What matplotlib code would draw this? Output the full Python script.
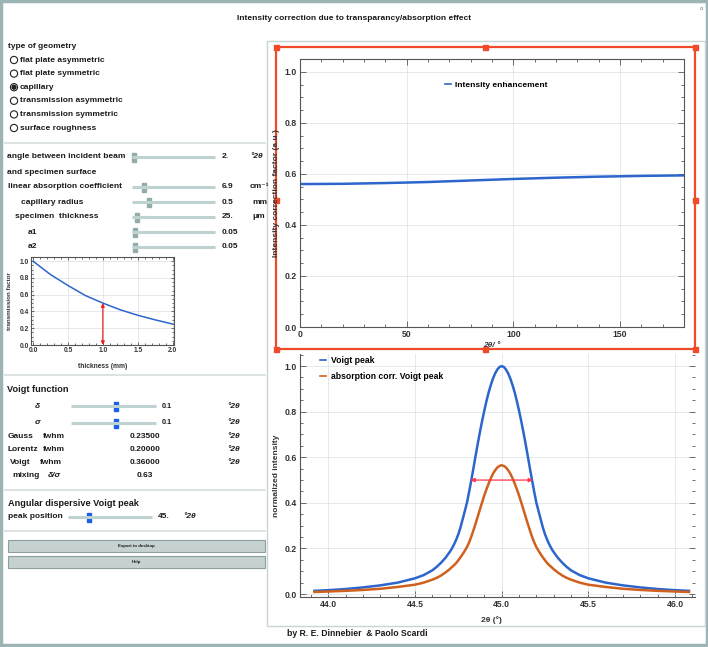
import matplotlib
matplotlib.use("Agg")
from matplotlib import pyplot as plt
from matplotlib.patches import Rectangle, Circle

plt.rcParams['font.family'] = ['Liberation Sans', 'DejaVu Sans']

W, H = 708, 647

# data
geometries = ["flat plate asymmetric", "flat plate symmetric", "capillary",
              "transmission asymmetric", "transmission symmetric", "surface roughness"]
selected_geometry = "capillary"

angle = [0, 20, 40, 60, 80, 100, 120, 140, 160, 180]
correction = [0.560, 0.561, 0.564, 0.568, 0.574, 0.580, 0.585, 0.589, 0.592, 0.594]

thickness = [0.0, 0.25, 0.5, 0.75, 1.0, 1.25, 1.5, 1.75, 2.0]
transmission = [1.0, 0.84, 0.71, 0.59, 0.50, 0.42, 0.355, 0.30, 0.25]
thickness_mark = 1.0
transmission_mark = 0.50

# Voigt peak, symmetric about the peak position: offsets from the centre (°2θ)
peak_pos = 45.0
offset = [0.0, 0.0125, 0.025, 0.0375, 0.05, 0.0625, 0.075, 0.0875, 0.1, 0.1125,
          0.125, 0.1375, 0.15, 0.1625, 0.175, 0.1875, 0.2, 0.2125, 0.225, 0.2375,
          0.25, 0.2625, 0.275, 0.2875, 0.3, 0.325, 0.35, 0.375, 0.4, 0.45,
          0.5, 0.6, 0.7, 0.8, 0.9, 1.0, 1.08]
voigt_half = [1.000, 0.996, 0.985, 0.968, 0.945, 0.917, 0.885, 0.847, 0.805, 0.760,
              0.712, 0.661, 0.608, 0.553, 0.500, 0.449, 0.401, 0.364, 0.328, 0.292,
              0.262, 0.238, 0.217, 0.199, 0.184, 0.158, 0.137, 0.119, 0.104, 0.083,
              0.069, 0.050, 0.038, 0.029, 0.022, 0.017, 0.014]
corr_half = [0.565, 0.562, 0.555, 0.543, 0.528, 0.508, 0.485, 0.460, 0.433, 0.403,
             0.372, 0.341, 0.310, 0.280, 0.252, 0.227, 0.206, 0.190, 0.175, 0.161,
             0.148, 0.136, 0.126, 0.118, 0.109, 0.094, 0.081, 0.071, 0.063, 0.050,
             0.041, 0.031, 0.023, 0.018, 0.014, 0.011, 0.009]
fwhm_left, fwhm_right, half_max = 44.82, 45.18, 0.5

two_theta = [peak_pos - d for d in offset[::-1]] + [peak_pos + d for d in offset[1:]]
voigt = voigt_half[::-1] + voigt_half[1:]
voigt_corr = corr_half[::-1] + corr_half[1:]

BLUE = '#2c66cc'
ORANGE = '#d0611c'
RED = '#f04a28'
INK = '#1a1a1a'
FS = 6.0

fig = plt.figure(figsize=(W / 100, H / 100), dpi=100)

# background layer in pixel coordinates
bg = fig.add_axes([0, 0, 1, 1], zorder=0)
bg.set_xlim(0, W)
bg.set_ylim(H, 0)
bg.axis('off')


def box(l, t, r, b):
  return [l / W, 1 - b / H, (r - l) / W, (b - t) / H]


def txt(x, y, s, size=FS, weight='bold', ha='left', color=INK, **kw):
  bg.text(x, y, s, fontsize=size, fontweight=weight, ha=ha, va='center', color=color, **kw)


def slider(x0, x1, y, thumb, color='#93abab', w=4):
  bg.plot([x0, x1], [y, y], color='#bfd2d2', lw=2.2, solid_capstyle='butt')
  bg.add_patch(Rectangle((thumb - w / 2, y - 4.5), w, 9, color=color))


def sep(y):
  bg.plot([5, 265], [y, y], color='#d3dddd', lw=1.2)


def style_axes(ax, size=6.2):
  ax.tick_params(which='both', direction='in', colors='#555555', labelcolor='#333333',
                 labelsize=size, width=0.6, pad=2)
  ax.tick_params(which='major', length=4)
  ax.tick_params(which='minor', length=2)
  for lab in ax.get_xticklabels() + ax.get_yticklabels():
    lab.set_fontweight('bold')
  for sp in ax.spines.values():
    sp.set_color('#555555')
    sp.set_linewidth(0.8)
  ax.grid(True, which='major', color='#dfe5ea', lw=0.6)
  ax.set_axisbelow(True)


# frames
bg.add_patch(Rectangle((1, 1), W - 2, H - 3, fill=False, ec='#9db4b4', lw=2.5))
bg.add_patch(Rectangle((267, 41), 438, 585, fill=False, ec='#c8d5d5', lw=1))

txt(354, 19, "Intensity correction due to transparancy/absorption effect", size=6.0, ha='center')
txt(700, 8, "α", size=4, weight='normal', color='#777777')

# geometry radio buttons
txt(8, 47, "type of geometry")
for i, g in enumerate(geometries):
  y = 60 + i * 13.6
  bg.add_patch(Circle((14, y), 3.6, fill=False, ec='#222222', lw=0.8))
  if g == selected_geometry:
    bg.add_patch(Circle((14, y), 1.9, color='#222222'))
  txt(20, y, g)
sep(143)

# sliders
txt(7, 157, "angle between incident beam")
txt(7, 172, "and specimen surface")
slider(132, 215, 157, 134)
txt(222, 157, "2.")
txt(250, 157, "°2θ", style='italic')
txt(8, 186, "linear absorption coefficient")
slider(132, 215, 187, 144)
txt(222, 187, "6.9")
txt(250, 186, "cm⁻¹")
txt(21, 202, "capillary radius")
slider(132, 215, 202, 149)
txt(222, 202, "0.5")
txt(252, 202, "mm")
txt(15, 217, "specimen  thickness")
slider(132, 215, 217, 137)
txt(222, 217, "25.")
txt(252, 217, "μm")
txt(28, 232, "a1")
slider(132, 215, 232, 135)
txt(222, 232, "0.05")
txt(28, 247, "a2")
slider(132, 215, 247, 135)
txt(222, 247, "0.05")

# transmission factor inset
ax_t = fig.add_axes(box(31, 257, 174, 345), zorder=1)
ax_t.plot(thickness, transmission, color=BLUE, lw=1.1)
ax_t.annotate("", xy=(thickness_mark, transmission_mark), xytext=(thickness_mark, 0.0),
              arrowprops=dict(arrowstyle='<|-|>', color='#f01e1e', lw=0.9,
                              mutation_scale=5, shrinkA=0, shrinkB=0))
ax_t.set_xlim(-0.03, 2.02)
ax_t.set_ylim(0, 1.05)
ax_t.set_xticks([0.0, 0.5, 1.0, 1.5, 2.0])
ax_t.set_yticks([0.0, 0.2, 0.4, 0.6, 0.8, 1.0])
ax_t.minorticks_on()
ax_t.tick_params(which='both', top=True, right=True)
style_axes(ax_t, size=4.8)
ax_t.tick_params(which='major', length=2.5, pad=1.5)
ax_t.tick_params(which='minor', length=1.2)
ax_t.set_xlabel("thickness (mm)", fontsize=4.8, fontweight='bold', color='#333333')
ax_t.set_ylabel("transmission factor", fontsize=4.5, fontweight='bold', color='#333333')
ax_t.xaxis.set_label_coords(0.5, -0.2)
ax_t.yaxis.set_label_coords(-0.13, 0.5)
sep(375)

# Voigt function
txt(7, 389, "Voigt function", size=6.6)
txt(35, 406, "δ", style='italic')
slider(71, 156, 406, 116, color='#1a5fe6', w=3.5)
txt(162, 406, "0.1", size=5.2)
txt(227, 406, "°2θ", style='italic')
txt(35, 423, "σ", style='italic')
slider(71, 156, 423, 116, color='#1a5fe6', w=3.5)
txt(162, 423, "0.1", size=5.2)
txt(227, 423, "°2θ", style='italic')
rows = [("Gauss", 8, "fwhm", 43, "0.23500", True),
        ("Lorentz", 8, "fwhm", 43, "0.20000", True),
        ("Voigt", 10, "fwhm", 40, "0.36000", True),
        ("mixing", 12, "δ/σ", 48, "0.63", False)]
for i, (a, xa, b, xb, v, unit) in enumerate(rows):
  y = 437 + i * 12.8
  txt(xa, y, a)
  txt(xb, y, b, style='italic' if b == "δ/σ" else 'normal')
  txt(145, y, v, ha='center')
  if unit:
    txt(227, y, "°2θ", style='italic')
sep(490)

txt(8, 503, "Angular dispersive Voigt peak", size=6.6)
txt(8, 517, "peak position")
slider(68, 152, 517, 89, color='#1a5fe6', w=3.5)
txt(158, 517, "45.")
txt(183, 517, "°2θ", style='italic')
sep(531)

for y0, label in [(540, "Export to desktop"), (556, "Help")]:
  bg.add_patch(Rectangle((8, y0), 257, 11.5, fc='#c6d2d2', ec='#8e9e9e', lw=0.8))
  txt(136, y0 + 5.8, label, size=3.2, ha='center')

# intensity correction plot
ax1 = fig.add_axes(box(300, 59, 684, 327), zorder=1)
ax1.plot(angle, correction, color=BLUE, lw=1.8, label="Intensity enhancement")
ax1.set_xlim(0, 180)
ax1.set_ylim(0, 1.05)
ax1.set_xticks([0, 50, 100, 150])
ax1.set_xticks(range(0, 181, 10), minor=True)
ax1.set_yticks([0.0, 0.2, 0.4, 0.6, 0.8, 1.0])
ax1.set_yticks([i * 0.05 for i in range(22)], minor=True)
ax1.tick_params(which='both', top=True, right=True)
style_axes(ax1)
ax1.set_xlabel("2θ/ °", fontsize=FS, fontweight='bold', style='italic', color='#333333')
ax1.set_ylabel("Intensity correction factor (a.u.)", fontsize=FS, fontweight='bold', color='#333333')
ax1.xaxis.set_label_coords(0.5, -0.055)
ax1.yaxis.set_label_coords(-0.052, 0.5)
leg = ax1.legend(frameon=False, loc='center left', bbox_to_anchor=((437 - 300) / 384, 1 - (85 - 59) / 268),
                 handlelength=0.8, handletextpad=0.5, prop=dict(size=FS, weight='bold'))
for h in leg.get_lines():
  h.set_linewidth(1.2)

# selection box around the upper plot
bg.add_patch(Rectangle((276, 47), 419, 302, fill=False, ec=RED, lw=1.6, zorder=5))
for hx, hy in [(276, 47), (485, 47), (695, 47), (276, 200), (695, 200),
               (276, 349), (485, 349), (695, 349)]:
  bg.add_patch(Rectangle((hx - 2.5, hy - 2.5), 5, 5, color=RED, zorder=6))

# Voigt peak plot
ax2 = fig.add_axes(box(300, 354, 695, 597), zorder=1)
ax2.plot(two_theta, voigt, color=BLUE, lw=1.8, solid_joinstyle='round', label="Voigt peak")
ax2.plot(two_theta, voigt_corr, color=ORANGE, lw=1.8, solid_joinstyle='round',
         label="absorption corr. Voigt peak")
ax2.annotate("", xy=(fwhm_left, half_max), xytext=(fwhm_right, half_max),
             arrowprops=dict(arrowstyle='<|-|>', color='#ff3548', lw=0.9,
                             mutation_scale=6, shrinkA=0, shrinkB=0))
ax2.set_xlim(43.837, 46.115)
ax2.set_ylim(-0.013, 1.053)
ax2.set_xticks([44.0, 44.5, 45.0, 45.5, 46.0])
ax2.set_xticks([44.0 + i * 0.1 for i in range(-1, 22)], minor=True)
ax2.set_yticks([0.0, 0.2, 0.4, 0.6, 0.8, 1.0])
ax2.set_yticks([i * 0.05 for i in range(22)], minor=True)
ax2.tick_params(which='both', right=True)
style_axes(ax2)
ax2.spines['top'].set_visible(False)
ax2.spines['right'].set_visible(False)
ax2.set_xlabel("2θ (°)", fontsize=FS, fontweight='bold', color='#333333')
ax2.set_ylabel("normalized intensity", fontsize=FS, fontweight='bold', color='#333333')
ax2.xaxis.set_label_coords(0.485, -0.078)
ax2.yaxis.set_label_coords(-0.05, 0.5)
leg2 = ax2.legend(frameon=False, loc='upper left', bbox_to_anchor=(0.03, 1.025),
                  handlelength=0.8, handletextpad=0.5, labelspacing=0.9,
                  prop=dict(size=6.2, weight='bold'))
for h in leg2.get_lines():
  h.set_linewidth(1.2)

txt(357, 633, "by R. E. Dinnebier  & Paolo Scardi", size=6.2, ha='center')

fig.savefig("out.png", dpi=100)
